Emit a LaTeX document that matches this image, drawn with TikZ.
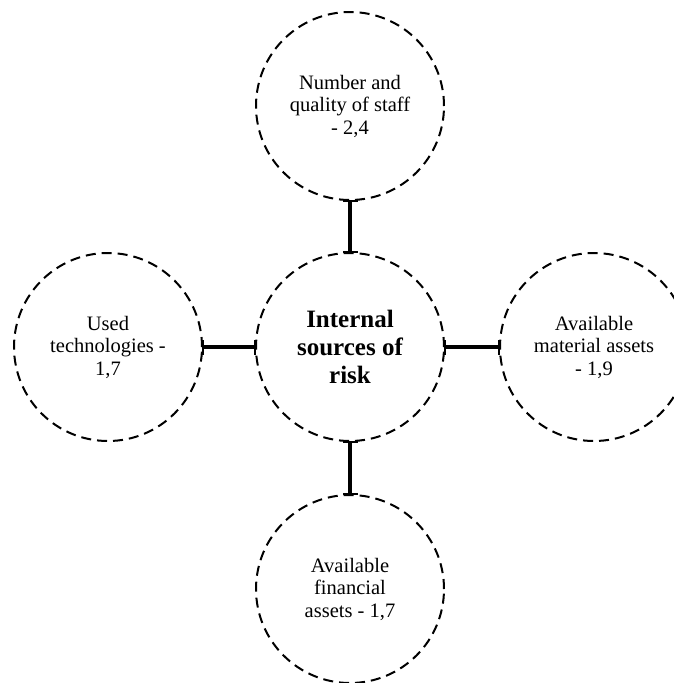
\documentclass[tikz,border=0pt]{standalone}
\usepackage{fontspec}
\setmainfont{Liberation Serif}
\usetikzlibrary{arrows.meta}
\begin{document}
\begin{tikzpicture}[x=1pt,y=-1pt,
  source/.style={circle,draw,line width=2pt,dash pattern=on 10pt off 6pt,
    minimum size=188pt,inner sep=0pt,align=center,
    font=\fontsize{20.5}{22.5}\selectfont},
  hub/.style={source,font=\fontsize{25}{28}\selectfont\bfseries},
  link/.style={line width=4.5pt,{Bar[width=15pt,line width=2pt]}-{Bar[width=15pt,line width=2pt]}, shorten <=-1pt, shorten >=-1pt}]
  \useasboundingbox (0,0) rectangle (674,683);
  \clip (0,0) rectangle (674,683);
  \node[hub] (c) at (350,347) {Internal\\sources of\\risk};
  \node[source] (t) at (350,106) {Number and\\quality of staff\\- 2,4};
  \node[source] (l) at (108,347) {Used\\technologies -\\1,7};
  \node[source] (r) at (594,347) {Available\\material assets\\- 1,9};
  \node[source] (b) at (350,589) {Available\\financial\\assets - 1,7};
  \draw[link] (t.south) -- (c.north);
  \draw[link] (l.east) -- (c.west);
  \draw[link] (c.east) -- (r.west);
  \draw[link] (c.south) -- (b.north);
\end{tikzpicture}
\end{document}
